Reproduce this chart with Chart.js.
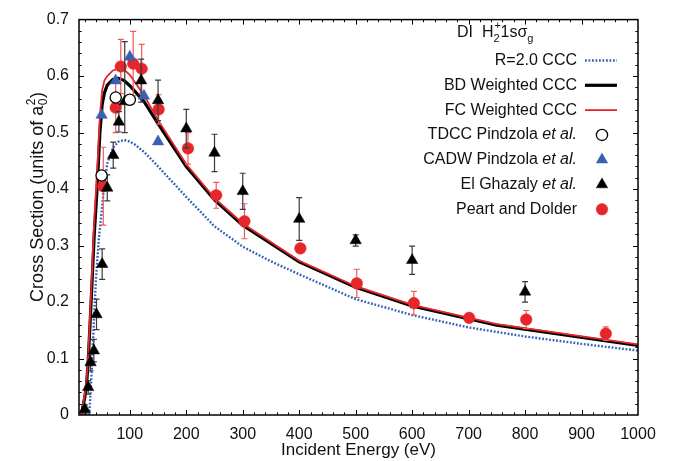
<!DOCTYPE html>
<html>
<head>
<meta charset="utf-8">
<script src="https://cdn.jsdelivr.net/npm/chart.js@4.4.0/dist/chart.umd.min.js"></script>
<style>
html, body { margin: 0; padding: 0; background: #fff; }
#wrap { width: 682px; height: 461px; }
</style>
</head>
<body>
<div id="wrap"><canvas id="myChart" width="682" height="461"></canvas></div>
<script>
// curves (CCC theory)
const energyR2 = [28, 30, 33, 36, 40, 45, 50, 55, 60, 70, 80, 90, 100, 110, 125, 150, 175, 200, 250, 300, 350, 400, 500, 600, 700, 800, 900, 1000];
const sigmaR2 = [0, 0.03, 0.09, 0.16, 0.24, 0.31, 0.36, 0.41, 0.445, 0.473, 0.484, 0.487, 0.484, 0.478, 0.466, 0.44, 0.413, 0.386, 0.334, 0.298, 0.272, 0.249, 0.205, 0.177, 0.155, 0.139, 0.126, 0.114];

const energyBD = [13, 16, 20, 23, 26, 30, 34, 37, 42, 47, 51, 55, 60, 70, 80, 90, 100, 125, 150, 200, 250, 300, 400, 500, 600, 750, 1000];
const sigmaBD = [0, 0.01, 0.03, 0.05, 0.09, 0.17, 0.255, 0.32, 0.4, 0.5, 0.55, 0.57, 0.584, 0.594, 0.596, 0.592, 0.583, 0.555, 0.516, 0.44, 0.381, 0.336, 0.271, 0.226, 0.193, 0.159, 0.123];

const energyFC = [13, 16, 20, 23, 26, 30, 34, 37, 42, 47, 51, 55, 60, 70, 80, 90, 100, 125, 150, 200, 250, 300, 400, 500, 600, 750, 1000];
const sigmaFC = [0, 0.012, 0.035, 0.058, 0.1, 0.185, 0.275, 0.345, 0.43, 0.53, 0.575, 0.592, 0.6, 0.61, 0.613, 0.611, 0.602, 0.566, 0.522, 0.444, 0.384, 0.339, 0.273, 0.228, 0.195, 0.161, 0.125];

// theory points
const energyTDCC = [50, 75, 100];
const sigmaTDCC = [0.424, 0.562, 0.558];

const energyCADW = [50, 75, 100, 125, 150];
const sigmaCADW = [0.531, 0.592, 0.634, 0.565, 0.484];

// experiments
const energyGhazaly = [20.4, 26.3, 30.4, 36.3, 41, 51, 60, 70.6, 80.6, 91, 120, 150, 200, 250, 300, 400, 500, 600, 800];
const sigmaGhazaly = [0.01, 0.049, 0.093, 0.114, 0.178, 0.267, 0.402, 0.46, 0.519, 0.555, 0.592, 0.557, 0.507, 0.464, 0.396, 0.347, 0.309, 0.274, 0.218];
const errLoGhazaly = [0.008, 0.012, 0.015, 0.02, 0.027, 0.027, 0.023, 0.023, 0.018, 0.055, 0.038, 0.036, 0.034, 0.033, 0.032, 0.038, 0.01, 0.025, 0.018];
const errHiGhazaly = [0.008, 0.012, 0.015, 0.02, 0.027, 0.027, 0.023, 0.023, 0.018, 0.106, 0.038, 0.036, 0.034, 0.033, 0.032, 0.038, 0.01, 0.025, 0.018];

const energyPeart = [53, 75, 84, 106, 121, 151, 203, 253, 303, 402, 502, 603, 701, 802, 943];
const sigmaPeart = [0.405, 0.544, 0.617, 0.622, 0.613, 0.541, 0.472, 0.389, 0.343, 0.295, 0.233, 0.198, 0.172, 0.169, 0.144];
const errPeart = [0.069, 0.044, 0.048, 0.057, 0.043, 0.026, 0.028, 0.023, 0.031, 0.005, 0.025, 0.021, 0.007, 0.016, 0.012];

const xTicks = [100, 200, 300, 400, 500, 600, 700, 800, 900, 1000];
const yTicks = [0, 0.1, 0.2, 0.3, 0.4, 0.5, 0.6, 0.7];

const FONT = "'Liberation Sans', Arial, Helvetica, sans-serif";
const RED = '#e5262b';
const BLUE = '#3a5fb0';

const pts = (xs, ys) => xs.map((x, i) => ({ x: x, y: ys[i] }));

const datasets = [
    {
        label: 'R=2.0 CCC', data: pts(energyR2, sigmaR2), showLine: true, pointRadius: 0,
        borderColor: '#3560b8', borderWidth: 2.4, borderDash: [1.8, 1.7], order: 6
    },
    {
        label: 'BD Weighted CCC', data: pts(energyBD, sigmaBD), showLine: true, pointRadius: 0,
        borderColor: '#000', borderWidth: 3.2, order: 5
    },
    {
        label: 'FC Weighted CCC', data: pts(energyFC, sigmaFC), showLine: true, pointRadius: 0,
        borderColor: RED, borderWidth: 1.8, order: 4
    },
    {
        label: 'TDCC Pindzola et al.', data: pts(energyTDCC, sigmaTDCC), showLine: false,
        pointStyle: 'circle', pointRadius: 5.6, backgroundColor: '#fff', borderColor: '#000',
        borderWidth: 1.3, order: 0, clip: false
    },
    {
        label: 'CADW Pindzola et al.', data: pts(energyCADW, sigmaCADW), showLine: false,
        pointStyle: 'triangle', pointRadius: 6.6, backgroundColor: BLUE, borderColor: BLUE,
        borderWidth: 0.5, order: 1, clip: false
    },
    {
        label: 'El Ghazaly et al.', data: pts(energyGhazaly, sigmaGhazaly), showLine: false,
        pointStyle: 'triangle', pointRadius: 6.6, backgroundColor: '#000', borderColor: '#000',
        borderWidth: 0.5, order: 2, clip: false,
        errLo: errLoGhazaly, errHi: errHiGhazaly, errColor: '#3a3a3a'
    },
    {
        label: 'Peart and Dolder', data: pts(energyPeart, sigmaPeart), showLine: false,
        pointStyle: 'circle', pointRadius: 5.8, backgroundColor: RED, borderColor: RED,
        borderWidth: 0.5, order: 3, clip: false,
        errLo: errPeart, errHi: errPeart, errColor: '#f05a5a'
    }
];

// legend text pieces (italic parts flagged)
const legendRows = [
    [['R=2.0 CCC', false]],
    [['BD Weighted CCC', false]],
    [['FC Weighted CCC', false]],
    [['TDCC Pindzola ', false], ['et al.', true]],
    [['CADW Pindzola ', false], ['et al.', true]],
    [['El Ghazaly ', false], ['et al.', true]],
    [['Peart and Dolder', false]]
];

const decor = {
    id: 'decor',
    beforeDatasetDraw(chart, args) {
        const ds = chart.data.datasets[args.index];
        if (!ds.errLo) return;
        const ctx = chart.ctx;
        const xs = chart.scales.x, ys = chart.scales.y;
        ctx.save();
        ctx.strokeStyle = ds.errColor;
        ctx.lineWidth = 1.2;
        ds.data.forEach((p, i) => {
            const px = xs.getPixelForValue(p.x);
            const top = ys.getPixelForValue(p.y + ds.errHi[i]);
            const bot = ys.getPixelForValue(p.y - ds.errLo[i]);
            ctx.beginPath();
            ctx.moveTo(px, top); ctx.lineTo(px, bot);
            ctx.moveTo(px - 3, top); ctx.lineTo(px + 3, top);
            ctx.moveTo(px - 3, bot); ctx.lineTo(px + 3, bot);
            ctx.stroke();
        });
        ctx.restore();
    },
    afterDraw(chart) {
        const ctx = chart.ctx;
        const a = chart.chartArea;
        const xs = chart.scales.x, ys = chart.scales.y;
        ctx.save();
        // frame
        ctx.strokeStyle = '#000';
        ctx.lineWidth = 1.5;
        ctx.strokeRect(a.left, a.top, a.right - a.left, a.bottom - a.top);
        // inward ticks on all sides
        ctx.lineWidth = 1;
        ctx.beginPath();
        for (let e = 20; e < 1000; e += 20) {
            const px = Math.round(xs.getPixelForValue(e)) + 0.5;
            const len = xTicks.includes(e) ? 5 : 2.6;
            ctx.moveTo(px, a.bottom); ctx.lineTo(px, a.bottom - len);
            ctx.moveTo(px, a.top); ctx.lineTo(px, a.top + len);
        }
        for (let k = 1; k < 35; k++) {
            const v = k * 0.02;
            const py = Math.round(ys.getPixelForValue(v)) + 0.5;
            const len = (k % 5 === 0) ? 5 : 2.6;
            ctx.moveTo(a.left, py); ctx.lineTo(a.left + len, py);
            ctx.moveTo(a.right, py); ctx.lineTo(a.right - len, py);
        }
        ctx.stroke();

        ctx.fillStyle = '#111';
        ctx.textBaseline = 'alphabetic';

        // y axis title with sub/superscript
        ctx.save();
        ctx.translate(43, 197);
        ctx.rotate(-Math.PI / 2);
        ctx.font = '18px ' + FONT;
        const main = 'Cross Section (units of a';
        const w1 = ctx.measureText(main).width;
        const w3 = ctx.measureText(')').width;
        ctx.font = '12px ' + FONT;
        const ws = ctx.measureText('2').width + 1;
        const x0 = -(w1 + ws + w3) / 2;
        ctx.font = '18px ' + FONT;
        ctx.textAlign = 'left';
        ctx.fillText(main, x0, 0);
        ctx.fillText(')', x0 + w1 + ws, 0);
        ctx.font = '12px ' + FONT;
        ctx.fillText('2', x0 + w1 + 0.5, -8);
        ctx.fillText('0', x0 + w1 + 0.5, 4);
        ctx.restore();

        // panel label: DI H2+ 1s sigma g
        ctx.textAlign = 'left';
        let cx = 457;
        const by = 37;
        ctx.font = '16px ' + FONT;
        ctx.fillText('DI  H', cx, by);
        cx += ctx.measureText('DI  H').width;
        ctx.font = '11px ' + FONT;
        ctx.fillText('2', cx, by + 5);
        ctx.fillText('+', cx + 1, by - 8);
        cx += ctx.measureText('2').width + 1;
        ctx.font = '16px ' + FONT;
        ctx.fillText('1s\u03c3', cx, by);
        cx += ctx.measureText('1s\u03c3').width;
        ctx.font = '11px ' + FONT;
        ctx.fillText('g', cx, by + 5);

        // legend: text right aligned, symbol to the right
        const textRight = 577;
        legendRows.forEach((parts, i) => {
            const ds = datasets[i];
            const y = 60.5 + i * 24.8;
            let total = 0;
            parts.forEach(p => {
                ctx.font = (p[1] ? 'italic ' : '') + '16px ' + FONT;
                total += ctx.measureText(p[0]).width;
            });
            let tx = textRight - total;
            ctx.fillStyle = '#111';
            ctx.textBaseline = 'middle';
            parts.forEach(p => {
                ctx.font = (p[1] ? 'italic ' : '') + '16px ' + FONT;
                ctx.fillText(p[0], tx, y);
                tx += ctx.measureText(p[0]).width;
            });
            if (ds.showLine) {
                ctx.save();
                ctx.strokeStyle = ds.borderColor;
                ctx.lineWidth = ds.borderWidth;
                ctx.setLineDash(ds.borderDash || []);
                ctx.beginPath();
                ctx.moveTo(585, y); ctx.lineTo(617, y);
                ctx.stroke();
                ctx.restore();
            } else {
                ctx.save();
                ctx.fillStyle = ds.backgroundColor;
                ctx.strokeStyle = ds.borderColor;
                ctx.lineWidth = ds.borderWidth;
                Chart.helpers.drawPoint(ctx, {
                    pointStyle: ds.pointStyle, radius: ds.pointRadius,
                    borderWidth: ds.borderWidth, rotation: 0
                }, 602, y);
                ctx.restore();
            }
        });
        ctx.restore();
    }
};

const config = {
    type: 'scatter',
    data: { datasets: datasets },
    options: {
        responsive: false,
        animation: false,
        devicePixelRatio: 1,
        layout: { padding: { top: 10, right: 44, left: 0, bottom: 0 } },
        plugins: { legend: { display: false }, tooltip: { enabled: false } },
        scales: {
            x: {
                type: 'linear', min: 10, max: 1000,
                afterBuildTicks: (scale) => { scale.ticks = xTicks.map(v => ({ value: v })); },
                afterFit: (scale) => { scale.height = 46; },
                grid: { display: false, drawTicks: false },
                border: { display: false },
                ticks: {
                    color: '#111', font: { family: FONT, size: 16 }, padding: 10,
                    maxRotation: 0, autoSkip: false,
                    callback: (v) => String(v)
                },
                title: {
                    display: true, text: 'Incident Energy (eV)', color: '#111',
                    font: { family: FONT, size: 17 }, padding: { top: 0, bottom: 0 }
                }
            },
            y: {
                type: 'linear', min: 0, max: 0.7,
                afterBuildTicks: (scale) => { scale.ticks = yTicks.map(v => ({ value: v })); },
                afterFit: (scale) => { scale.width = 79; },
                grid: { display: false, drawTicks: false },
                border: { display: false },
                ticks: {
                    color: '#111', font: { family: FONT, size: 16 }, padding: 10,
                    callback: (v) => (v === 0 ? '0' : v.toFixed(1))
                }
            }
        }
    },
    plugins: [decor]
};

const myChart = new Chart(document.getElementById('myChart'), config);
</script>
</body>
</html>
